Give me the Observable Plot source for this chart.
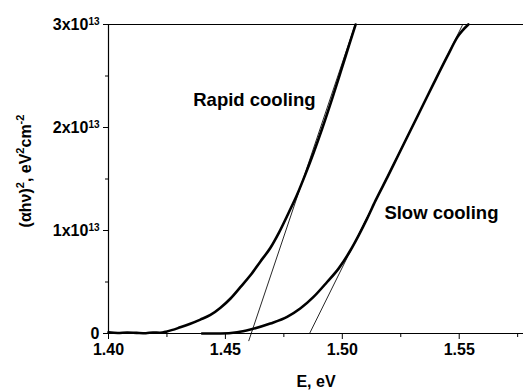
<!DOCTYPE html>
<html>
<head>
<meta charset="utf-8">
<script src="https://cdn.jsdelivr.net/npm/d3@7"></script>
<script src="https://cdn.jsdelivr.net/npm/@observablehq/plot@0.6"></script>
<style>
  html, body { margin: 0; padding: 0; background: white; }
</style>
</head>
<body>
<div id="chart"></div>
<script>
// Photon energy (eV) and (αhν)^2 in units of 1e13 eV^2 cm^-2
const rapidE = [1.400, 1.404, 1.408, 1.412, 1.416, 1.419, 1.422, 1.4250, 1.4307, 1.4350, 1.4393, 1.4436, 1.4479, 1.4522, 1.4564, 1.4607, 1.4650, 1.4692, 1.4728, 1.4771, 1.4807, 1.4842, 1.4878, 1.4914, 1.4958, 1.4993, 1.5029, 1.5057];
const rapidY = [0.012, 0.005, 0.010, 0.006, 0.003, 0.010, 0.008, 0.020, 0.060, 0.095, 0.135, 0.180, 0.250, 0.340, 0.450, 0.565, 0.700, 0.830, 0.975, 1.175, 1.350, 1.545, 1.760, 1.990, 2.290, 2.540, 2.800, 3.000];

const slowE = [1.440, 1.448, 1.455, 1.4607, 1.4692, 1.4764, 1.4820, 1.4877, 1.4935, 1.4984, 1.5035, 1.5070, 1.5106, 1.5142, 1.5193, 1.5236, 1.5293, 1.5351, 1.5393, 1.5450, 1.5493, 1.5539];
const slowY = [0.000, 0.000, 0.012, 0.039, 0.097, 0.161, 0.242, 0.355, 0.500, 0.630, 0.808, 0.953, 1.115, 1.290, 1.518, 1.716, 1.978, 2.245, 2.438, 2.695, 2.880, 3.000];

// Linear extrapolations (tangent lines)
const rapidTanE = [1.4600, 1.5055];
const rapidTanY = [-0.07, 3.0];
const slowTanE = [1.4860, 1.5515];
const slowTanY = [0.0, 3.0];

// Annotations
const labelText = ["Rapid cooling", "Slow cooling"];
const labelE = [1.4624, 1.5424];
const labelY = [2.27, 1.167];

// Ticks
const xMajor = [1.40, 1.45, 1.50, 1.55];
const xMinor = [1.425, 1.475, 1.525, 1.575];
const yMajor = [0, 1, 2, 3];
const yMinor = [0.5, 1.5, 2.5];

const rapid = rapidE.map((e, i) => ({E: e, y: rapidY[i]}));
const slow = slowE.map((e, i) => ({E: e, y: slowY[i]}));
const rapidTan = rapidTanE.map((e, i) => ({E: e, y: rapidTanY[i]}));
const slowTan = slowTanE.map((e, i) => ({E: e, y: slowTanY[i]}));
const labels = labelText.map((t, i) => ({text: t, E: labelE[i], y: labelY[i]}));

const font = "'Liberation Sans', Arial, Helvetica, sans-serif";

const plot = Plot.plot({
  width: 523,
  height: 390,
  marginLeft: 108,
  marginRight: 0,
  marginTop: 24,
  marginBottom: 57,
  style: {fontFamily: font, fontSize: "16px", fontWeight: "bold", background: "white", color: "black", overflow: "visible"},
  x: {domain: [1.40, 1.5775]},
  y: {domain: [0, 3]},
  marks: [
    Plot.axisX({ticks: xMajor, tickSize: 6, tickPadding: 4, tickFormat: d3.format(".2f"),
      label: "E, eV", labelAnchor: "center", labelArrow: "none", labelOffset: 53}),
    Plot.axisX({ticks: xMinor, tickSize: 4, tickFormat: () => "", label: null}),
    Plot.axisY({ticks: yMajor, tickSize: 5, tickPadding: 4,
      tickFormat: d => d === 0 ? "0" : d + "x10",
      label: "(αhν)2, eV2cm-2", labelAnchor: "center", labelArrow: "none", labelOffset: 89}),
    Plot.axisY({ticks: yMinor, tickSize: 3, tickFormat: () => "", label: null}),
    Plot.ruleX([1.40], {stroke: "black", strokeWidth: 1.2}),
    Plot.ruleY([0], {stroke: "black", strokeWidth: 1.2}),
    Plot.ruleY([3], {stroke: "black", strokeWidth: 1.2}),
    Plot.line(rapidTan, {x: "E", y: "y", stroke: "black", strokeWidth: 0.85}),
    Plot.line(slowTan, {x: "E", y: "y", stroke: "black", strokeWidth: 0.85}),
    Plot.line(rapid, {x: "E", y: "y", stroke: "black", strokeWidth: 2.6, curve: "monotone-x"}),
    Plot.line(slow, {x: "E", y: "y", stroke: "black", strokeWidth: 2.6, curve: "monotone-x"}),
    Plot.text(labels, {x: "E", y: "y", text: "text", fontSize: 18.5, fontWeight: "bold", fill: "black"})
  ]
});

document.getElementById("chart").appendChild(plot);

// superscript exponents on y tick labels
d3.select(plot).selectAll('g[aria-label="y-axis tick label"] text').each(function() {
  const t = d3.select(this);
  const s = t.text();
  if (s !== "0" && s !== "") {
    t.append("tspan").attr("dy", "-0.5em").attr("font-size", "10px").text("13");
  }
});

// superscripts in y-axis label
d3.select(plot).selectAll('g[aria-label="y-axis label"] text').each(function() {
  const t = d3.select(this);
  t.text("");
  t.attr("dx", 8);
  const parts = [["(αhν)", 0], ["2", 1], [", eV", 0], ["2", 1], ["cm", 0], ["-2", 1]];
  let up = false;
  for (const [str, sup] of parts) {
    const sp = t.append("tspan").text(str);
    if (sup && !up) { sp.attr("dy", -7).attr("font-size", "11px"); up = true; }
    else if (sup) { sp.attr("font-size", "11px"); }
    else if (up) { sp.attr("dy", 7); up = false; }
  }
});
</script>
</body>
</html>
